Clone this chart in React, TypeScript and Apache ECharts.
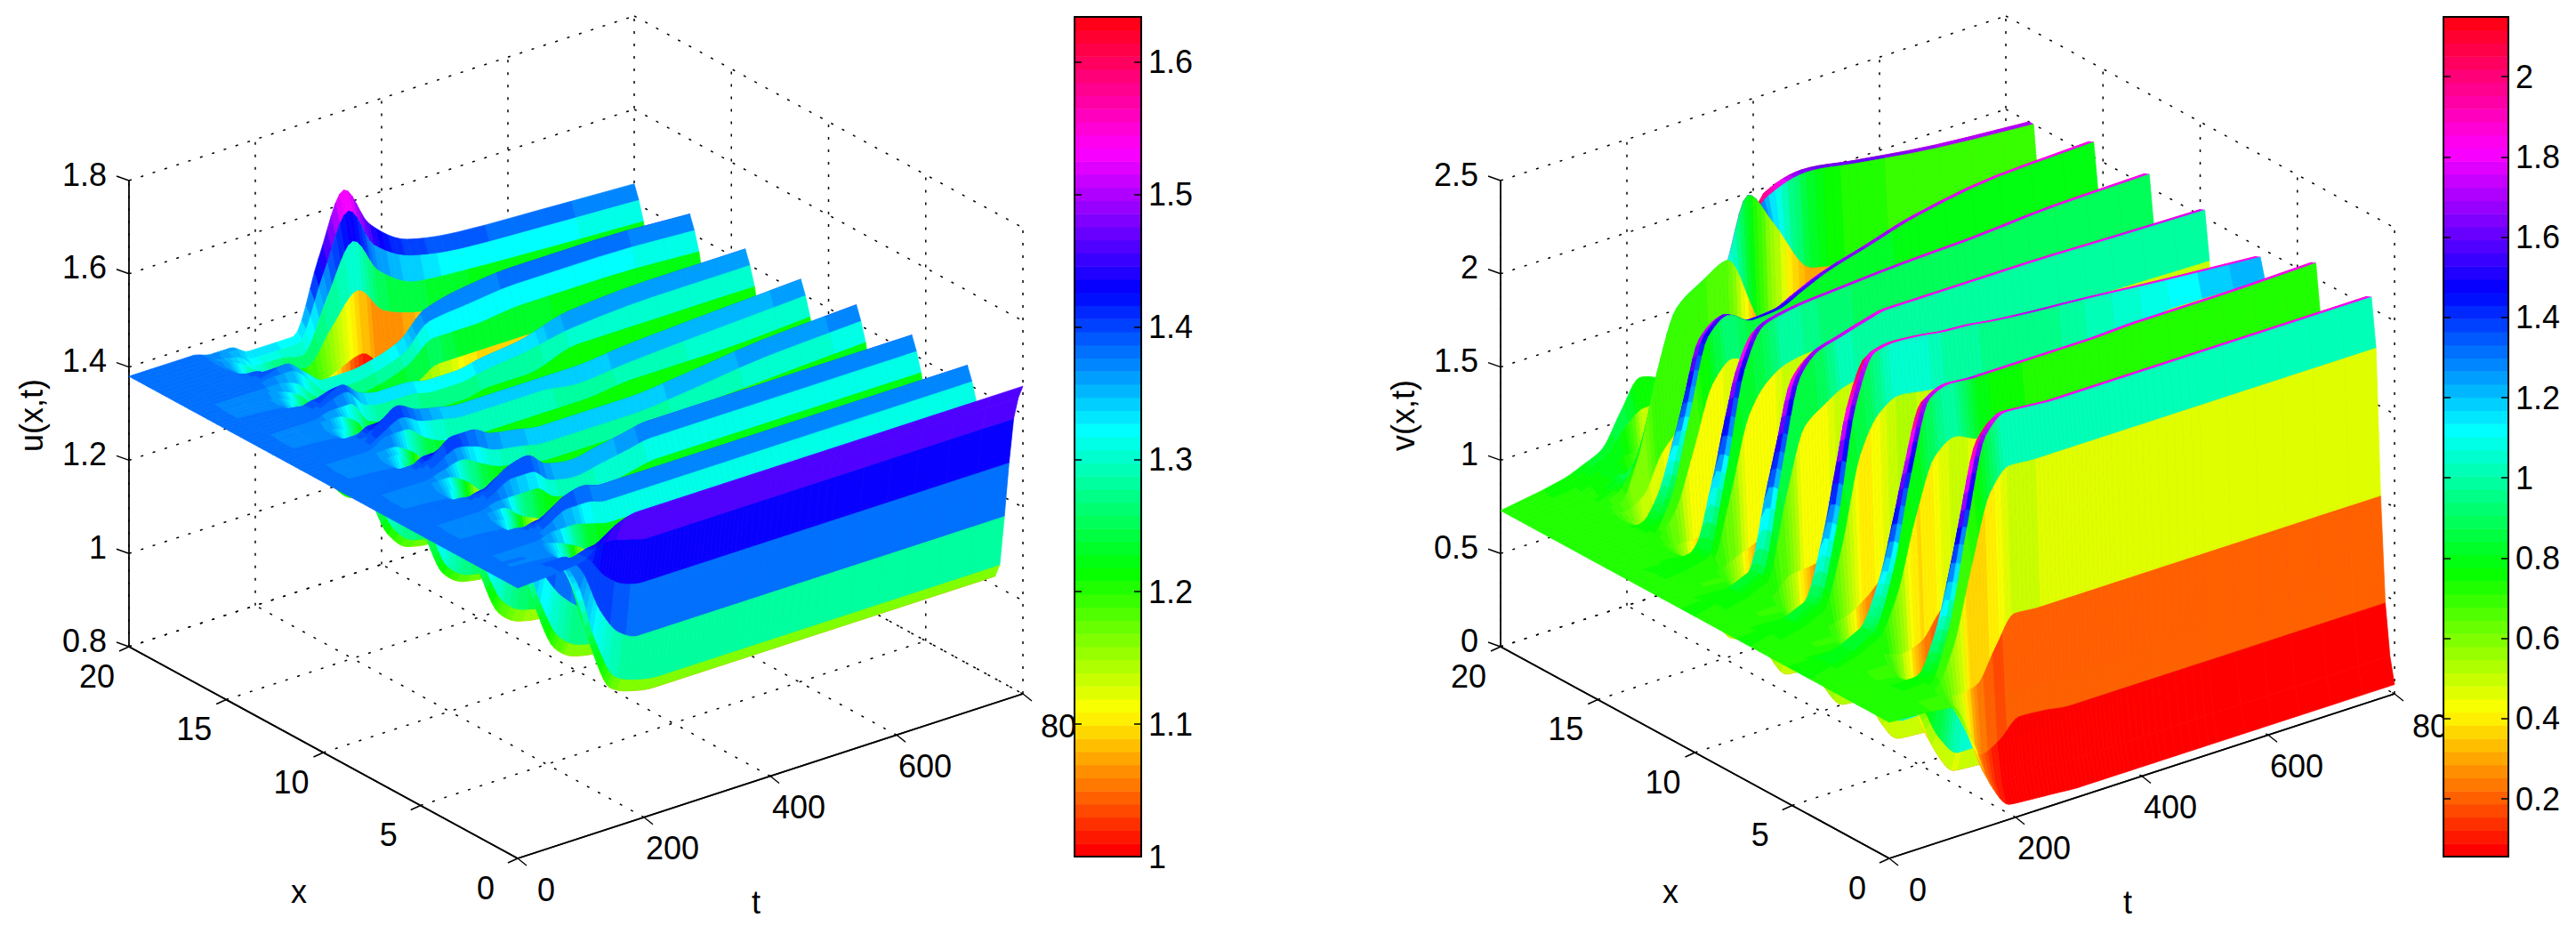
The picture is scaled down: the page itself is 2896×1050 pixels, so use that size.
import React, { useEffect, useRef } from "react";
import * as echarts from "echarts";

const tNodes = [0, 100, 130, 160, 190, 220, 260, 300, 340, 380, 440, 520, 650, 800];
const xTicks = [0, 5, 10, 15, 20];
const tTicks = [0, 200, 400, 600, 800];
const uTicks = [0.8, 1, 1.2, 1.4, 1.6, 1.8];
const vTicks = [0, 0.5, 1, 1.5, 2, 2.5];
const uBarTicks = [1, 1.1, 1.2, 1.3, 1.4, 1.5, 1.6];
const vBarTicks = [0.2, 0.4, 0.6, 0.8, 1, 1.2, 1.4, 1.6, 1.8, 2];

// u(x,t) x 100, one row per entry of tNodes, 85 x nodes per row
const uRow0 = [138,
138,138,138,138,138,138,138,138,138,138,138,138,
138,138,138,138,138,138,138,138,138,138,138,138,
138,138,138,138,138,138,138,138,138,138,138,138,
138,138,138,138,138,138,138,138,138,138,138,138,
138,138,138,138,138,138,138,138,138,138,138,138,
138,138,138,138,138,138,138,138,138,138,138,138,
138,138,138,138,138,138,138,138,138,138,138,138];
const uRow1 = [139,
139,139,138,138,137,137,137,137,138,138,138,138,
138,138,138,137,137,137,137,137,138,138,138,138,
138,138,138,137,137,137,137,137,138,138,138,138,
138,138,138,137,137,137,137,137,138,138,138,138,
138,138,138,137,137,137,137,137,138,138,138,138,
138,138,138,137,137,137,137,137,138,138,138,138,
138,138,138,138,138,138,138,138,138,138,138,138];
const uRow2 = [142,
141,140,137,134,131,130,131,135,137,139,140,141,
140,139,137,134,132,131,132,136,138,139,140,141,
140,139,137,135,133,132,133,136,138,139,140,141,
140,140,138,135,134,133,134,137,138,140,140,141,
140,140,138,135,134,133,134,136,138,139,140,140,
140,139,137,136,134,134,135,136,137,138,139,139,
139,138,138,137,136,136,136,136,137,137,137,137];
const uRow3 = [145,
143,140,132,124,117,115,118,128,135,139,142,144,
142,139,133,125,119,117,120,129,135,139,142,144,
142,139,133,126,120,118,121,130,136,140,142,144,
142,140,134,127,122,120,123,131,136,140,142,144,
142,140,135,129,124,122,124,131,136,139,141,142,
141,139,135,130,126,125,127,132,135,137,139,140,
139,138,136,133,131,130,131,133,135,136,137,137];
const uRow4 = [146,
143,139,129,118,108,105,110,123,132,138,142,145,
142,138,129,119,110,107,112,124,133,139,142,145,
142,138,129,119,111,108,112,125,132,138,141,144,
142,138,130,121,112,110,114,125,132,137,140,142,
140,137,129,121,114,112,115,124,130,134,137,139,
137,135,129,123,118,116,119,126,130,133,136,137,
136,135,132,129,126,125,126,130,132,133,134,135];
const uRow5 = [146,
143,138,128,116,106,103,108,122,131,137,141,144,
141,137,127,116,107,104,109,121,130,136,139,142,
139,135,126,116,108,105,109,122,130,136,139,142,
140,136,127,118,109,107,111,123,130,135,139,141,
139,135,127,118,110,108,112,122,128,133,136,138,
136,133,127,120,114,112,115,122,127,130,132,134,
133,132,129,125,122,121,123,127,131,133,134,135];
const uRow6 = [146,
143,138,128,116,105,102,107,121,131,137,141,144,
141,137,127,116,106,103,108,120,129,135,138,141,
138,134,125,115,107,104,108,121,129,135,138,141,
139,135,126,117,108,106,110,122,129,134,138,140,
138,134,126,117,109,107,111,121,128,133,136,138,
136,133,127,119,113,111,114,122,127,130,132,134,
133,131,127,123,119,118,120,126,130,132,134,135];
const uRow7 = [146,
143,138,128,116,105,102,107,121,131,137,141,144,
141,137,127,116,106,103,108,121,130,135,139,142,
139,135,126,116,107,104,108,121,128,134,137,140,
138,134,125,116,107,105,109,121,129,134,138,140,
138,134,126,117,109,107,111,121,127,132,135,137,
135,133,126,120,114,112,115,123,128,131,133,135,
133,131,125,118,112,110,115,128,137,143,147,150];
const uRow8 = [146,
143,138,128,116,105,102,107,121,131,137,141,144,
141,137,127,116,106,103,108,121,130,136,140,143,
140,136,127,116,107,104,108,121,128,134,137,140,
138,134,125,116,107,105,109,121,129,134,138,140,
138,134,126,117,109,107,111,121,127,132,135,137,
135,133,127,120,115,113,116,124,129,133,135,137,
135,131,122,113,104,102,109,130,143,153,159,163];
const uRow9 = [146,
143,138,128,116,105,102,107,121,131,137,141,144,
141,137,127,116,106,103,108,122,131,137,141,144,
141,137,127,116,107,104,108,121,128,134,137,140,
138,134,125,116,107,105,109,121,129,134,138,140,
138,134,126,117,108,106,110,121,128,133,136,138,
136,133,126,119,112,110,114,125,132,137,140,142,
139,134,124,113,103,100,106,125,137,145,150,154];
const uRow10 = [146,
143,138,128,116,105,102,107,121,131,137,141,144,
141,137,127,116,106,103,108,122,131,137,141,144,
141,137,127,116,107,104,108,121,128,134,137,140,
137,134,125,115,107,104,108,121,128,134,137,140,
138,134,125,116,107,105,109,121,128,133,137,139,
137,133,125,116,107,105,110,123,132,137,141,144,
141,137,127,116,106,103,108,124,134,140,145,148];
const uRow11 = [146,
143,138,128,116,105,102,107,121,131,137,141,144,
141,137,127,116,106,103,108,122,131,137,141,144,
141,137,127,116,106,103,108,120,129,135,138,141,
138,134,125,115,107,104,108,121,129,135,138,141,
138,134,125,115,107,104,109,121,130,136,139,142,
139,135,126,116,107,104,109,123,132,138,142,145,
142,137,127,116,106,103,108,123,132,139,143,146];
const uRow12 = [146,
143,138,128,116,105,102,107,121,131,137,141,144,
141,137,127,116,106,103,108,122,131,137,141,144,
141,137,127,116,106,103,108,121,130,136,140,143,
140,136,126,115,106,103,108,121,130,135,139,142,
139,135,126,115,106,103,108,121,130,136,140,143,
140,136,126,115,106,103,108,122,132,138,142,145,
142,137,127,116,106,103,108,122,132,138,142,145];
const uRow13 = [146,
143,138,128,116,105,102,107,121,131,137,141,144,
141,137,127,116,106,103,108,122,131,137,141,144,
141,137,127,116,106,103,108,122,131,137,141,144,
141,137,127,116,106,103,108,121,130,136,140,143,
140,136,126,115,106,103,108,121,130,136,140,143,
140,136,126,115,106,103,108,122,131,137,141,144,
141,137,127,116,106,103,108,122,131,137,141,144];
const uRows = [uRow0, uRow1, uRow2, uRow3, uRow4, uRow5, uRow6, uRow7, uRow8, uRow9, uRow10, uRow11, uRow12, uRow13];

// v(x,t) x 100
const vRow0 = [73,
73,73,73,73,73,73,73,73,73,73,73,73,
73,73,73,73,73,73,73,73,73,73,73,73,
73,73,73,73,73,73,73,73,73,73,73,73,
73,73,73,73,73,73,73,73,73,73,73,73,
73,73,73,73,73,73,73,73,73,73,73,73,
73,73,73,73,73,73,73,73,73,73,73,73,
73,73,73,73,73,73,73,73,73,73,73,73];
const vRow1 = [70,
70,71,72,74,75,75,75,74,73,71,70,70,
71,74,78,85,87,87,87,85,78,73,71,70,
71,73,77,83,85,85,85,83,78,73,71,70,
71,73,77,83,85,85,85,83,78,73,71,70,
71,72,74,77,78,78,78,77,75,72,71,71,
71,72,72,74,74,74,74,74,73,72,72,72,
72,73,73,73,74,73,73,74,75,76,78,79];
const vRow2 = [50,
52,56,69,92,100,100,99,94,76,61,54,51,
53,58,75,105,115,115,114,107,83,64,55,51,
53,59,79,114,125,125,124,116,89,67,56,52,
55,61,85,125,138,138,136,127,96,70,58,53,
55,60,78,110,120,120,119,112,88,69,60,56,
57,60,69,85,90,90,90,87,77,69,66,64,
65,68,70,73,76,76,75,76,78,80,82,83];
const vRow3 = [22,
26,35,71,133,153,152,150,135,88,50,32,24,
28,38,78,144,166,165,162,147,94,52,32,24,
29,40,85,161,186,185,182,164,106,58,36,26,
31,42,86,160,185,184,181,163,106,58,36,27,
31,42,82,150,173,172,169,154,102,60,40,32,
35,42,69,115,131,130,128,119,88,62,50,45,
50,58,75,95,90,85,80,80,80,83,86,88];
const vRow4 = [8,
18,40,88,170,199,198,194,174,104,48,21,10,
20,43,91,173,203,202,198,177,106,49,22,11,
21,45,95,180,211,210,206,184,112,52,25,13,
22,44,89,168,196,195,191,171,104,49,24,13,
22,43,88,165,193,192,188,169,104,51,27,16,
24,42,81,147,171,170,167,151,98,55,35,26,
45,70,95,138,120,95,80,70,75,85,98,105];
const vRow5 = [7,
21,49,103,181,208,207,203,181,108,49,21,9,
23,50,100,180,207,206,202,181,108,49,22,10,
24,52,107,186,213,212,208,186,112,52,24,12,
25,51,101,174,199,198,194,174,105,49,23,12,
25,50,100,171,196,195,191,171,104,49,24,13,
25,48,92,157,179,178,175,157,98,50,28,18,
35,70,105,168,145,105,75,55,50,75,105,120];
const vRow6 = [6,
20,48,102,180,207,206,202,180,107,47,20,8,
22,45,80,175,206,205,201,179,107,47,21,9,
23,51,105,184,212,211,207,184,110,50,23,11,
24,50,100,177,203,202,198,177,106,49,22,11,
24,50,95,173,198,197,193,173,104,48,22,11,
22,45,85,150,172,171,168,151,92,45,23,14,
30,68,110,178,160,120,80,55,45,75,105,114];
const vRow7 = [5,
19,46,102,180,206,205,201,180,106,46,20,8,
22,44,76,180,206,205,201,179,107,47,20,9,
23,50,100,182,210,209,205,183,110,50,23,10,
24,50,100,180,206,205,201,180,107,49,22,10,
23,50,92,173,199,198,194,174,104,48,21,10,
21,44,84,151,173,172,169,152,93,46,24,15,
25,65,110,185,175,145,110,80,60,60,80,90];
const vRow8 = [5,
19,46,102,180,206,205,201,180,106,46,20,8,
22,44,74,180,206,205,201,179,107,47,20,9,
23,50,98,181,209,208,204,182,109,50,23,10,
24,50,100,180,206,205,201,180,107,49,22,10,
23,50,90,174,200,199,195,175,104,48,21,10,
21,45,82,156,179,178,175,157,96,48,25,15,
20,35,80,155,214,190,160,120,80,60,55,60];
const vRow9 = [5,
19,46,102,180,206,205,201,180,106,46,20,8,
22,44,72,180,206,205,201,179,107,47,20,9,
23,50,95,179,207,206,202,180,108,49,22,10,
24,50,100,180,206,205,201,180,107,49,22,10,
23,50,88,175,201,200,196,175,105,48,21,10,
22,46,82,161,185,184,181,162,98,46,22,12,
15,25,55,120,195,208,208,170,110,60,45,40];
const vRow10 = [5,
19,46,102,180,206,205,201,180,106,46,20,8,
22,44,72,180,206,205,201,179,107,47,20,9,
23,50,95,172,205,204,200,178,107,49,22,10,
24,50,100,180,206,205,201,180,107,49,22,10,
23,50,88,176,202,201,197,176,105,48,21,10,
23,48,82,166,191,190,186,167,100,46,21,10,
12,20,30,85,164,214,214,190,110,50,28,20];
const vRow11 = [5,
19,46,102,180,206,205,201,180,106,46,20,8,
22,44,72,180,207,206,202,180,107,47,20,9,
23,50,100,175,203,202,198,176,106,48,22,10,
24,50,100,180,206,205,201,180,107,49,22,10,
23,50,88,177,203,202,198,177,106,48,21,10,
23,49,80,173,199,198,194,173,104,48,21,10,
12,20,40,72,160,210,210,185,100,42,20,12];
const vRow12 = [5,
19,46,102,180,206,205,201,180,106,46,20,8,
22,44,72,180,207,206,202,180,107,47,20,9,
22,50,110,185,199,198,194,173,104,47,21,10,
24,50,100,179,205,204,200,179,107,48,22,10,
23,50,88,179,206,205,201,180,107,49,22,10,
23,50,80,180,206,205,201,180,107,49,22,10,
12,20,45,70,170,204,204,180,100,42,15,8];
const vRow13 = [5,
19,46,102,180,206,205,201,180,106,46,20,8,
22,45,72,181,208,207,203,181,108,47,20,9,
22,50,125,184,195,194,190,170,102,46,21,10,
24,50,100,178,204,203,199,178,106,48,22,10,
23,50,88,180,207,206,202,180,108,49,22,10,
24,51,80,181,208,207,203,181,108,50,22,10,
12,20,45,70,170,200,200,175,100,42,15,8];
const vRows = [vRow0, vRow1, vRow2, vRow3, vRow4, vRow5, vRow6, vRow7, vRow8, vRow9, vRow10, vRow11, vRow12, vRow13];

const FONT = "Liberation Sans";
const FS = 36;
const xVec = [-437, -238];
const tVec = [568, -185];
const H = 524;
const OY = 965;

function hsvColor(level: number) {
  const l = Math.max(0, Math.min(63, level));
  return `hsl(${(l / 64) * 360}, 100%, 50%)`;
}

// drawing-time curve through one node's row values (monotone, like a smoothed line)
function monotoneTangents(ts: number[], ys: number[]) {
  const n = ts.length;
  const sec: number[] = [];
  for (let k = 0; k < n - 1; k++) sec.push((ys[k + 1] - ys[k]) / (ts[k + 1] - ts[k]));
  const m = [sec[0]];
  for (let k = 1; k < n - 1; k++) {
    if (sec[k - 1] * sec[k] <= 0) m.push(0);
    else {
      const w1 = 2 * (ts[k + 1] - ts[k]) + (ts[k] - ts[k - 1]);
      const w2 = (ts[k + 1] - ts[k]) + 2 * (ts[k] - ts[k - 1]);
      m.push((w1 + w2) / (w1 / sec[k - 1] + w2 / sec[k]));
    }
  }
  m.push(sec[n - 2]);
  return m;
}

function refine(rows: number[][]) {
  const nx = rows[0].length;
  const steps = tNodes.slice(0, -1).map((t, j) => (j === 0 || t >= 520 ? 3 : 6));
  const tt: number[] = [];
  const out: number[][] = [];
  const tangents: number[][] = [];
  for (let i = 0; i < nx; i++) tangents.push(monotoneTangents(tNodes, rows.map((r) => r[i])));
  steps.forEach((m, j) => {
    const h = tNodes[j + 1] - tNodes[j];
    for (let s = 0; s < m; s++) {
      const u = s / m;
      tt.push(tNodes[j] + h * u);
      const row: number[] = [];
      for (let i = 0; i < nx; i++) {
        const y0 = rows[j][i], y1 = rows[j + 1][i];
        const m0 = tangents[i][j], m1 = tangents[i][j + 1];
        const u2 = u * u, u3 = u2 * u;
        row.push((2 * u3 - 3 * u2 + 1) * y0 + (u3 - 2 * u2 + u) * h * m0 + (-2 * u3 + 3 * u2) * y1 + (u3 - u2) * h * m1);
      }
      out.push(row);
    }
  });
  tt.push(800);
  out.push(rows[rows.length - 1]);
  return { tt, out };
}

function panelChildren(cfg: any) {
  const { ox, rows, zMin, zMax, cMin, cMax, zTicks, zLabel, zLabelX } = cfg;
  const P = (x: number, t: number, z: number) => {
    const zf = (z - zMin) / (zMax - zMin);
    return [ox + (x / 20) * xVec[0] + (t / 800) * tVec[0], OY + (x / 20) * xVec[1] + (t / 800) * tVec[1] - zf * H];
  };
  const out: any[] = [];
  const ln = (a: number[], b: number[], dotted: boolean, w = 1.5) =>
    out.push({
      type: "line",
      silent: true,
      shape: { x1: a[0], y1: a[1], x2: b[0], y2: b[1] },
      style: { stroke: "#000", lineWidth: w, lineDash: dotted ? [3, 11] : undefined },
    });
  const txt = (s: string, x: number, y: number, align = "center", rot = 0) =>
    out.push({
      type: "text",
      silent: true,
      x,
      y,
      rotation: rot,
      style: { text: s, fill: "#000", fontSize: FS, fontFamily: FONT, textAlign: align, textVerticalAlign: "middle" },
    });

  for (const z of zTicks) {
    ln(P(20, 0, z), P(20, 800, z), true);
    ln(P(20, 800, z), P(0, 800, z), true);
  }
  for (const t of tTicks) {
    ln(P(20, t, zMin), P(20, t, zMax), true);
    ln(P(0, t, zMin), P(20, t, zMin), t !== 0);
  }
  for (const x of xTicks) {
    if (x !== 20) ln(P(x, 800, zMin), P(x, 800, zMax), true);
    ln(P(x, 0, zMin), P(x, 800, zMin), x !== 0);
  }
  ln(P(20, 0, zMin), P(20, 0, zMax), false, 1.8);
  ln(P(0, 0, zMin), P(20, 0, zMin), false, 1.8);
  ln(P(0, 0, zMin), P(0, 800, zMin), false, 1.8);
  for (const z of zTicks) {
    const p = P(20, 0, z);
    ln(p, [p[0] - 14, p[1] - 5], false);
    txt(String(z), ox - 462, p[1] - 7, "right");
  }
  for (const x of xTicks) {
    const p = P(x, 0, zMin);
    ln(p, [p[0] - 11, p[1] + 5], false);
    txt(String(x), p[0] - 36, p[1] + 33);
  }
  for (const t of tTicks) {
    const p = P(0, t, zMin);
    ln(p, [p[0] + 10, p[1] + 8], false);
    if (t === 800) txt(String(t), p[0] + 20, p[1] + 36, "left");
    else txt(String(t), p[0] + 32, p[1] + 35);
  }
  txt("x", ox - 246, 1002);
  txt("t", ox + 268, 1014);
  txt(zLabel, zLabelX, 467, "center", Math.PI / 2);

  const { tt, out: fine } = refine(rows);
  const n = rows[0].length;
  const dx = 20 / (n - 1);
  const lvl = (v: number) => Math.floor(((v / 100 - cMin) / (cMax - cMin)) * 64);
  for (let i = n - 2; i >= 0; i--) {
    const ci = Math.max(0, i - 1);
    for (let j = tt.length - 2; j >= 0; j--) {
      const pts = [
        P(i * dx, tt[j], fine[j][i] / 100),
        P(i * dx, tt[j + 1], fine[j + 1][i] / 100),
        P((i + 1) * dx, tt[j + 1], fine[j + 1][i + 1] / 100),
        P((i + 1) * dx, tt[j], fine[j][i + 1] / 100),
      ];
      const col = hsvColor(lvl((fine[j][ci] + fine[j + 1][ci]) / 2));
      out.push({
        type: "polygon",
        silent: true,
        shape: { points: pts },
        style: { fill: col, stroke: col, lineWidth: 0.7 },
      });
    }
  }
  return out;
}

const colorLevels = Array.from({ length: 64 }, (_, k) => [k]);

function colorbarSeries(idx: number, lo: number, hi: number) {
  return {
    type: "custom",
    xAxisIndex: idx,
    yAxisIndex: idx * 2,
    z: 5,
    silent: true,
    clip: false,
    data: colorLevels,
    renderItem: (_p: any, api: any) => {
      const k = api.value(0);
      const a = api.coord([0, lo + ((hi - lo) * k) / 64]);
      const b = api.coord([1, lo + ((hi - lo) * (k + 1)) / 64]);
      return {
        type: "rect",
        shape: { x: a[0], y: b[1], width: b[0] - a[0], height: a[1] - b[1] + 0.6 },
        style: { fill: hsvColor(k) },
      };
    },
  };
}

function barAxes(grid: number, lo: number, hi: number, ticks: number[]) {
  const common = {
    gridIndex: grid,
    type: "value",
    min: lo,
    max: hi,
    z: 10,
    splitLine: { show: false },
    axisLine: { show: true, onZero: false, lineStyle: { color: "#000", width: 2 } },
    axisTick: { show: true, inside: true, length: 8, lineStyle: { color: "#000", width: 1.5 }, customValues: ticks },
  };
  return [
    {
      ...common,
      position: "right",
      axisLabel: { show: true, customValues: ticks, color: "#000", fontSize: FS, fontFamily: FONT, margin: 8, formatter: (v: number) => String(v) },
    },
    { ...common, position: "left", axisLabel: { show: false } },
  ];
}

function barXAxes(grid: number) {
  const common = { gridIndex: grid, type: "value", min: 0, max: 1, z: 10, axisTick: { show: false }, axisLabel: { show: false }, splitLine: { show: false }, axisLine: { show: true, onZero: false, lineStyle: { color: "#000", width: 2 } } };
  return [{ ...common, position: "bottom" }, { ...common, position: "top" }];
}

export default function App() {
  const ref = useRef<HTMLDivElement>(null);
  useEffect(() => {
    document.body.style.margin = "0";
    document.body.style.overflow = "hidden";
    const chart = echarts.init(ref.current!, undefined, { renderer: "svg" });
    const panels = [
      { ox: 582, rows: uRows, zMin: 0.8, zMax: 1.8, cMin: 1, cMax: 1.634, zTicks: uTicks, zLabel: "u(x,t)", zLabelX: 35 },
      { ox: 2124, rows: vRows, zMin: 0, zMax: 2.5, cMin: 0.056, cMax: 2.149, zTicks: vTicks, zLabel: "v(x,t)", zLabelX: 1577 },
    ];
    const surfaceSeries = panels.map((cfg) => ({
      type: "custom",
      coordinateSystem: "none",
      z: 2,
      silent: true,
      clip: false,
      progressive: 0,
      data: [[0]],
      renderItem: () => ({ type: "group", children: panelChildren(cfg) }),
    }));
    const uy = barAxes(0, 1, 1.634, uBarTicks);
    const vy = barAxes(1, 0.056, 2.149, vBarTicks);
    chart.setOption({
      animation: false,
      backgroundColor: "#fff",
      grid: [
        { left: 1208, top: 19, width: 75, height: 944 },
        { left: 2747, top: 19, width: 73, height: 944 },
      ],
      xAxis: [barXAxes(0)[0], barXAxes(1)[0], barXAxes(0)[1], barXAxes(1)[1]],
      yAxis: [...uy, ...vy],
      series: [...surfaceSeries, colorbarSeries(0, 1, 1.634), { ...colorbarSeries(1, 0.056, 2.149), yAxisIndex: 2 }],
    });
    return () => chart.dispose();
  }, []);
  return <div ref={ref} style={{ position: "absolute", left: 0, top: 0, width: 2896, height: 1050 }} />;
}
